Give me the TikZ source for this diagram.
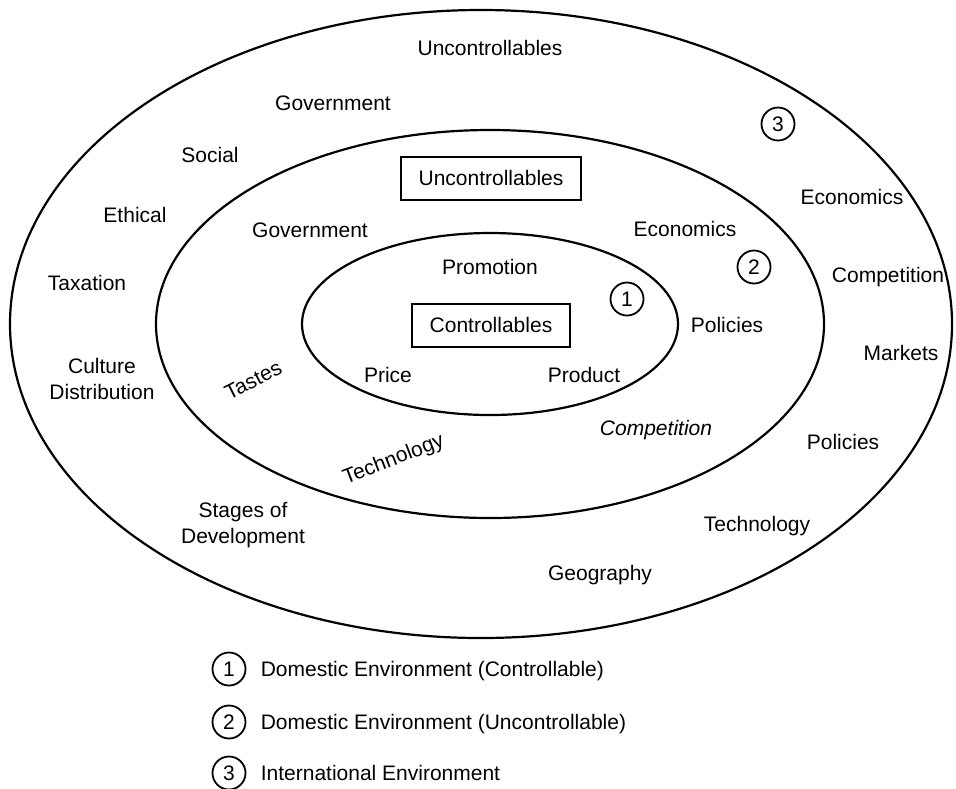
\documentclass[tikz,border=0pt]{standalone}
\usepackage{fontspec}
\setmainfont{Liberation Sans}
\usetikzlibrary{positioning}
\newcommand{\ringfont}{\fontsize{10.5}{12.6}\selectfont}
\tikzset{
  every node/.style={
    font=\ringfont
  },
  ring/.style={
    draw,
    line width=1.1pt
  },
  factor/.style={
    inner sep=1pt,
    text height=7.5pt,
    text depth=0pt
  },
  twoline/.style={
    align=center,
    inner sep=1pt
  },
  mixbox/.style={
    draw,
    line width=1pt,
    text height=7.5pt,
    text depth=0pt,
    minimum height=21.5pt,
    inner xsep=9pt
  },
  zone/.style={
    draw,
    circle,
    line width=0.9pt,
    minimum size=16.5pt,
    inner sep=0pt
  }
}
\begin{document}
\begin{tikzpicture}[x=0.5pt,y=-0.5pt]
  \useasboundingbox (0,0) rectangle (956,788);
  % the three environments
  \draw [ring] (481,324) ellipse [x radius=235.5pt, y radius=157pt];
  \draw [ring] (490,324) ellipse [x radius=167pt, y radius=97pt];
  \draw [ring] (490,324) ellipse [x radius=94pt, y radius=45.5pt];
  % international environment
  \node [factor] (unc3) at (490,48) {Uncontrollables};
  \node [factor] (gov3) at (333,103) {Government};
  \node [factor] (soc3) at (210,155) {Social};
  \node [factor] (eth3) at (135,215) {Ethical};
  \node [factor] (tax3) at (87,283) {Taxation};
  \node [twoline] (cul3) at (102,379) {Culture\\Distribution};
  \node [twoline] (stg3) at (243,525) {Stages of\\Development};
  \node [factor] (geo3) at (600,573) {Geography};
  \node [factor] (tec3) at (757,524) {Technology};
  \node [factor] (pol3) at (843,442) {Policies};
  \node [factor] (mkt3) at (901,353) {Markets};
  \node [factor] (com3) at (888,275) {Competition};
  \node [factor] (eco3) at (852,197) {Economics};
  \node [zone] (z3) at (778,124) {3};
  % domestic uncontrollables
  \node [mixbox] (unc2) at (491,178) {Uncontrollables};
  \node [factor] (gov2) at (310,230) {Government};
  \node [factor] (eco2) at (685,229) {Economics};
  \node [factor] (pol2) at (727,325) {Policies};
  \node [factor, font=\ringfont\itshape] (com2) at (656,428) {Competition};
  \node [factor, rotate=21] (tec2) at (393,458) {Technology};
  \node [factor, rotate=27] (tas2) at (253,380) {Tastes};
  \node [zone] (z2) at (754,267) {2};
  % controllables
  \node [factor] (pro1) at (490,267) {Promotion};
  \node [mixbox] (ctl1) at (491,325) {Controllables};
  \node [factor] (pri1) at (388,375) {Price};
  \node [factor] (prd1) at (584,375) {Product};
  \node [zone] (z1) at (627,299) {1};
  % key
  \node [zone] (k1) at (229,669) {1};
  \node [zone] (k2) at (229,722) {2};
  \node [zone] (k3) at (229,773) {3};
  \node [factor, right=6pt of k1] (k1txt) {Domestic Environment (Controllable)};
  \node [factor, right=6pt of k2] (k2txt) {Domestic Environment (Uncontrollable)};
  \node [factor, right=6pt of k3] (k3txt) {International Environment};
\end{tikzpicture}
\end{document}
